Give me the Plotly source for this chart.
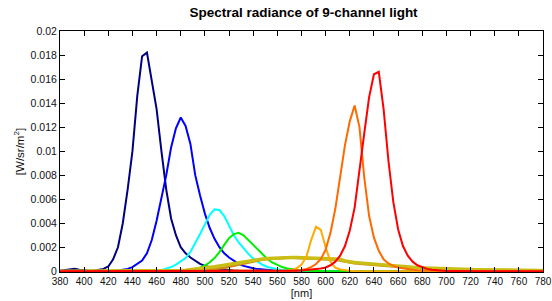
import plotly.graph_objects as go

# wavelength grid [nm]
wavelength = list(range(380, 781, 4))

# spectral radiance values in units of 1e-3 W/sr/m^2 (rows of 10 samples = 40 nm)
royal_blue = [0.05, 0.08, 0.15, 0.2, 0.12, 0.06, 0.04, 0.05, 0.1, 0.2,
              0.4, 1.0, 2.0, 4.0, 6.8, 10.0, 14.6, 17.9, 18.2, 15.9,
              13.5, 10.0, 6.8, 4.4, 3.0, 2.0, 1.5, 1.15, 0.85, 0.62,
              0.45, 0.33, 0.25, 0.18, 0.13, 0.1, 0.07, 0.05, 0.04, 0.03,
              0.02, 0.02, 0.01, 0.01, 0, 0, 0, 0, 0, 0,
              0, 0, 0, 0, 0, 0, 0, 0, 0, 0,
              0, 0, 0, 0, 0, 0, 0, 0, 0, 0,
              0, 0, 0, 0, 0, 0, 0, 0, 0, 0,
              0, 0, 0, 0, 0, 0, 0, 0, 0, 0,
              0, 0, 0, 0, 0, 0, 0, 0.03, 0.08, 0.05,
              0.02]
blue = [0, 0, 0, 0, 0, 0, 0, 0, 0, 0,
        0.02, 0.04, 0.07, 0.12, 0.2, 0.35, 0.6, 0.9, 1.5, 2.6,
        4.2, 6.0, 8.0, 10.3, 11.9, 12.8, 12.1, 10.6, 8.0, 6.3,
        4.8, 3.6, 2.7, 2.0, 1.5, 1.15, 0.85, 0.62, 0.45, 0.33,
        0.25, 0.18, 0.13, 0.09, 0.06, 0.04, 0.03, 0.02, 0.01, 0,
        0, 0, 0, 0, 0, 0, 0, 0, 0, 0,
        0, 0, 0, 0, 0, 0, 0, 0, 0, 0,
        0, 0, 0, 0, 0, 0, 0, 0, 0, 0,
        0, 0, 0, 0, 0, 0, 0, 0, 0, 0,
        0, 0, 0, 0, 0, 0, 0, 0, 0, 0,
        0]
cyan = [0, 0, 0, 0, 0, 0, 0, 0, 0, 0,
        0, 0, 0, 0, 0, 0, 0, 0, 0.02, 0.03,
        0.05, 0.1, 0.2, 0.35, 0.55, 0.8, 1.1, 1.6, 2.3, 3.1,
        3.9, 4.7, 5.15, 5.1, 4.6, 3.8, 3.0, 2.4, 1.9, 1.45,
        1.05, 0.75, 0.52, 0.36, 0.25, 0.17, 0.11, 0.07, 0.05, 0.03,
        0.02, 0.01, 0, 0, 0, 0, 0, 0, 0, 0,
        0, 0, 0, 0, 0, 0, 0, 0, 0, 0,
        0, 0, 0, 0, 0, 0, 0, 0, 0, 0,
        0, 0, 0, 0, 0, 0, 0, 0, 0, 0,
        0, 0, 0, 0, 0, 0, 0, 0, 0, 0,
        0]
green = [0, 0, 0, 0, 0, 0, 0, 0, 0, 0,
         0, 0, 0, 0, 0, 0, 0, 0, 0, 0,
         0, 0, 0, 0, 0.02, 0.03, 0.06, 0.1, 0.18, 0.3,
         0.48, 0.75, 1.1, 1.6, 2.2, 2.75, 3.1, 3.2, 3.0, 2.6,
         2.2, 1.75, 1.35, 1.0, 0.72, 0.5, 0.35, 0.24, 0.16, 0.1,
         0.06, 0.04, 0.02, 0.01, 0, 0, 0, 0, 0, 0,
         0, 0, 0, 0, 0, 0, 0, 0, 0, 0,
         0, 0, 0, 0, 0, 0, 0, 0, 0, 0,
         0, 0, 0, 0, 0, 0, 0, 0, 0, 0,
         0, 0, 0, 0, 0, 0, 0, 0, 0, 0,
         0]
pc_amber = [0, 0, 0, 0, 0, 0, 0, 0, 0, 0,
            0, 0, 0, 0, 0, 0, 0, 0, 0, 0,
            0, 0, 0, 0, 0, 0, 0.01, 0.02, 0.03, 0.05,
            0.08, 0.12, 0.17, 0.23, 0.3, 0.38, 0.47, 0.56, 0.65, 0.74,
            0.82, 0.9, 0.97, 1.03, 1.07, 1.1, 1.12, 1.13, 1.13, 1.12,
            1.1, 1.09, 1.07, 1.05, 1.03, 1.01, 0.99, 0.96, 0.88, 0.76,
            0.7, 0.66, 0.62, 0.58, 0.55, 0.52, 0.49, 0.46, 0.43, 0.4,
            0.37, 0.34, 0.31, 0.28, 0.26, 0.24, 0.22, 0.2, 0.18, 0.17,
            0.16, 0.15, 0.14, 0.13, 0.12, 0.11, 0.1, 0.1, 0.09, 0.09,
            0.08, 0.08, 0.07, 0.07, 0.06, 0.06, 0.06, 0.05, 0.05, 0.05,
            0.05]
white = [0, 0, 0, 0, 0, 0, 0, 0, 0, 0,
         0, 0, 0, 0, 0, 0, 0, 0, 0, 0,
         0, 0, 0.01, 0.02, 0.04, 0.06, 0.09, 0.13, 0.17, 0.21,
         0.26, 0.32, 0.38, 0.45, 0.52, 0.6, 0.67, 0.74, 0.81, 0.87,
         0.93, 0.98, 1.03, 1.07, 1.1, 1.12, 1.14, 1.15, 1.15, 1.14,
         1.13, 1.12, 1.1, 1.09, 1.07, 1.05, 1.04, 1.03, 1.0, 0.86,
         0.78, 0.74, 0.7, 0.66, 0.62, 0.58, 0.55, 0.52, 0.48, 0.45,
         0.42, 0.39, 0.36, 0.33, 0.3, 0.28, 0.26, 0.24, 0.22, 0.2,
         0.19, 0.18, 0.17, 0.16, 0.15, 0.14, 0.13, 0.12, 0.11, 0.11,
         0.1, 0.1, 0.09, 0.09, 0.08, 0.08, 0.08, 0.07, 0.07, 0.07,
         0.07]
amber = [0, 0, 0, 0, 0, 0, 0, 0, 0, 0,
         0, 0, 0, 0, 0, 0, 0, 0, 0, 0,
         0, 0, 0, 0, 0, 0, 0, 0, 0, 0,
         0, 0, 0, 0, 0, 0, 0, 0, 0, 0,
         0, 0, 0, 0, 0, 0.02, 0.03, 0.05, 0.1, 0.25,
         0.55, 1.2, 2.6, 3.7, 3.45, 2.0, 0.8, 0.3, 0.15, 0.08,
         0.05, 0.03, 0.02, 0.01, 0, 0, 0, 0, 0, 0,
         0, 0, 0, 0, 0, 0, 0, 0, 0, 0,
         0, 0, 0, 0, 0, 0, 0, 0, 0, 0,
         0, 0, 0, 0, 0, 0, 0, 0, 0, 0,
         0]
red_orange = [0, 0, 0, 0, 0, 0, 0, 0, 0, 0,
              0, 0, 0, 0, 0, 0, 0, 0, 0, 0,
              0, 0, 0, 0, 0, 0, 0, 0, 0, 0,
              0, 0, 0, 0, 0, 0, 0, 0, 0, 0,
              0, 0, 0, 0, 0, 0, 0.01, 0.02, 0.04, 0.07,
              0.1, 0.2, 0.35, 0.6, 1.0, 1.8, 3.2, 5.2, 7.7, 10.5,
              12.5, 13.8, 12.0, 7.8, 4.6, 2.8, 1.7, 1.0, 0.65, 0.45,
              0.32, 0.24, 0.17, 0.12, 0.09, 0.07, 0.05, 0.04, 0.03, 0.02,
              0.02, 0.01, 0, 0, 0, 0, 0, 0, 0, 0,
              0, 0, 0, 0, 0, 0, 0, 0, 0, 0,
              0]
red = [0, 0, 0, 0, 0, 0, 0, 0, 0, 0,
       0, 0, 0, 0, 0, 0, 0, 0, 0, 0,
       0, 0, 0, 0, 0, 0, 0, 0, 0, 0,
       0, 0, 0, 0, 0, 0, 0, 0, 0, 0,
       0, 0, 0, 0, 0, 0.01, 0.02, 0.03, 0.04, 0.05,
       0.07, 0.1, 0.13, 0.18, 0.24, 0.32, 0.5, 0.8, 1.3, 2.1,
       3.4, 5.3, 8.2, 11.5, 14.5, 16.4, 16.6, 13.5, 9.2, 5.8,
       3.5, 2.1, 1.3, 0.8, 0.5, 0.32, 0.2, 0.13, 0.08, 0.05,
       0.03, 0.02, 0.01, 0, 0, 0, 0, 0, 0, 0,
       0, 0, 0, 0, 0, 0, 0, 0, 0, 0,
       0]

series_names = ["royal blue", "blue", "cyan", "green", "pc amber", "white",
                "amber", "red-orange", "red"]
series_values = [royal_blue, blue, cyan, green, pc_amber, white, amber, red_orange, red]
series_colors = ["#000080", "#0000FF", "#00FFFF", "#00EE00", "#CC8A1E", "#C8BE14",
                 "#FFAA00", "#FF6A00", "#FF0000"]
series_widths = [2, 2, 2, 2, 2.5, 3.5, 2, 2, 2]

x_ticks = list(range(380, 781, 20))
y_ticks = [0, 0.002, 0.004, 0.006, 0.008, 0.01, 0.012, 0.014, 0.016, 0.018, 0.02]
y_ticktext = ["0", "0.002", "0.004", "0.006", "0.008", "0.01", "0.012", "0.014",
              "0.016", "0.018", "0.02"]

fig = go.Figure()
for name, vals, col, w in zip(series_names, series_values, series_colors, series_widths):
    fig.add_trace(go.Scatter(x=wavelength, y=[v * 1e-3 for v in vals], mode="lines",
                             name=name, line=dict(color=col, width=w)))

font = "Liberation Sans, Arial, Helvetica, sans-serif"
fig.update_layout(
    width=552, height=301,
    margin=dict(l=60, r=9, t=31, b=29),
    plot_bgcolor="white", paper_bgcolor="white",
    showlegend=False,
    font=dict(family=font, size=10, color="#111"),
    title=dict(text="<b>Spectral radiance of 9-channel light</b>", x=0.55, xanchor="center",
               y=0.96, yanchor="middle", yref="container",
               font=dict(family=font, size=13.5, color="#000")),
)
fig.update_xaxes(range=[380, 780], tickvals=x_ticks, ticks="inside", ticklen=5,
                 tickcolor="black", showline=True, linecolor="black", linewidth=1,
                 mirror="ticks", showgrid=False, zeroline=False, automargin=False,
                 tickfont=dict(size=10),
                 title=dict(text="[nm]", standoff=3, font=dict(size=11)))
fig.update_yaxes(range=[-0.00006, 0.02], tickvals=y_ticks, ticktext=y_ticktext,
                 ticks="inside", ticklen=5, tickcolor="black", showline=True,
                 linecolor="black", linewidth=1, mirror="ticks", showgrid=False,
                 zeroline=False, automargin=False, tickfont=dict(size=10.5),
                 title=dict(text="[W/sr/m<sup>2</sup>]", standoff=3, font=dict(size=11.5)))

fig.write_html("out.html", config={"displayModeBar": False},
               post_script="document.body.style.margin='0';document.body.style.overflow='hidden';")
